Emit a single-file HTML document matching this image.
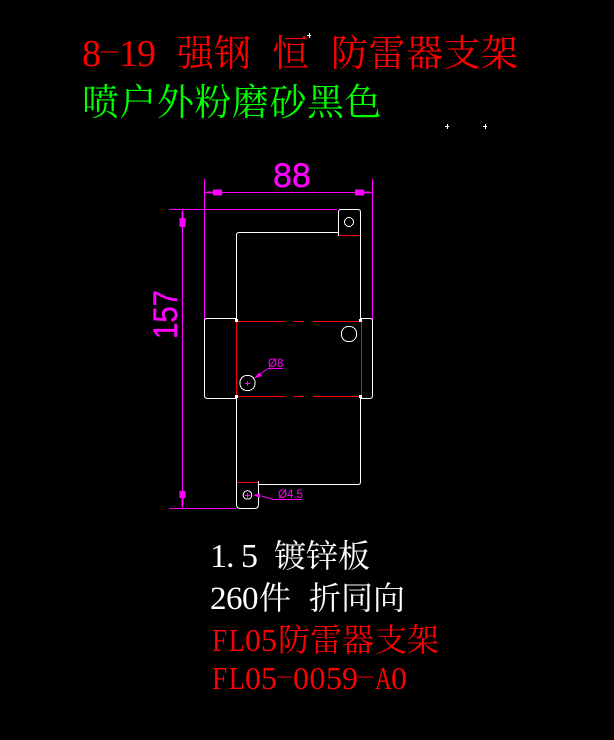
<!DOCTYPE html>
<html><head><meta charset="utf-8">
<style>
html,body{margin:0;padding:0;background:#000;width:614px;height:740px;overflow:hidden}
svg{display:block}
.c{font-family:"Liberation Serif","Noto Serif CJK SC",serif}
.s{font-family:"Liberation Sans",sans-serif}
</style></head>
<body>
<svg width="614" height="740" viewBox="0 0 614 740" xmlns="http://www.w3.org/2000/svg">
<rect width="614" height="740" fill="#000"/>

<!-- Title text -->
<g class="c" fill="#ff0000">
  <text x="82" y="66" font-size="38">8</text>
  <text transform="translate(98 55.400) scale(1.8 .4)" font-size="38">-</text>
  <text x="119 137" y="66" font-size="38">19</text>
  <text x="177 214" y="66" font-size="37">强钢</text>
  <text x="272" y="66" font-size="37">恒</text>
  <text x="331 368.5 406 443.5 481" y="66" font-size="37">防雷器支架</text>
</g>
<text class="c" fill="#00ff00" x="82 119.5 157 194.5 232 269.5 307 344.5" y="115" font-size="37">喷户外粉磨砂黑色</text>

<!-- Specks -->
<g stroke="#fff" stroke-width="1" shape-rendering="crispEdges">
  <path d="M307 35.500h4M309.500 33v5M445 126.500h4M447.500 124v5M483 126.500h4M485.500 124v5"/>
</g>

<!-- Dimension lines -->
<g stroke="#ff00ff" stroke-width="1" fill="none" shape-rendering="crispEdges">
  <path d="M204.500 179V325M372.500 179V325M204.500 192.500H372.500"/>
  <path d="M169 209.500H337M182.500 209.500V508.500M169 508.500H236"/>
</g>
<g fill="#ff00ff" shape-rendering="crispEdges">
  <path d="M207 191.500H213V189.500H222V195.500H213V193.500H207Z"/>
  <path d="M370 191.500H364V189.500H355V195.500H364V193.500H370Z"/>
  <path d="M181.500 212H183.500V218H185.500V227H179.500V218H181.500Z"/>
  <path d="M181.500 506H183.500V498H185.500V491H179.500V498H181.500Z"/>
</g>
<text class="s" fill="#ff00ff" stroke="#ff00ff" stroke-width=".4" x="273" y="187" font-size="34">88</text>
<text class="s" fill="#ff00ff" stroke="#ff00ff" stroke-width=".4" transform="translate(177 339) rotate(-90)" font-size="34" textLength="49" lengthAdjust="spacingAndGlyphs">157</text>

<!-- Red bend lines -->
<g stroke="#ff0000" stroke-width="1" fill="none" shape-rendering="crispEdges">
  <path d="M238 321.500H285M293 321.500H304M313 321.500H360"/>
  <path d="M238 396.500H285M293 396.500H304M313 396.500H360"/>
  <path d="M236.500 322V396M361.500 322V396"/>
  <path d="M339 235.500H360M237 482.500H258"/>
</g>

<!-- White outline -->
<g stroke="#fff" stroke-width="1" fill="none">
  <path d="M338.500 236V212Q338.500 209.500 341 209.500H358Q360.500 209.500 360.500 212V321"/>
  <path d="M338.500 232.500H239Q236.500 232.500 236.500 235V321"/>
  <path d="M236.500 318.500H207Q204.500 318.500 204.500 321V395.500Q204.500 398.500 207.500 398.500H236.500"/>
  <path d="M360.500 318.500H370Q372.500 318.500 372.500 321V395.500Q372.500 398.500 369.500 398.500H360.500"/>
  <path d="M236.500 397V504.500Q236.500 508.500 240.500 508.500H254.500Q258.500 508.500 258.500 504.500V481"/>
  <path d="M258.500 484.500H358Q360.500 484.500 360.500 482V397"/>
  <g shape-rendering="crispEdges">
    <circle cx="349" cy="222" r="4.500"/>
    <circle cx="349" cy="334" r="7.700"/>
    <circle cx="247.500" cy="383" r="7.700"/>
    <circle cx="247.500" cy="495" r="4.300"/>
  </g>
</g>
<g fill="#fff" shape-rendering="crispEdges">
  <rect x="235" y="319" width="3" height="3"/>
  <rect x="359" y="319" width="3" height="3"/>
  <rect x="235" y="395" width="3" height="3"/>
  <rect x="359" y="395" width="3" height="3"/>
</g>

<!-- Hole callouts -->
<g stroke="#ff00ff" stroke-width="1" fill="none">
  <path d="M245 383.500H250M247.500 381V386M245 495.500H250M247.500 493V498" shape-rendering="crispEdges"/>
  <path d="M268 368.500H283" shape-rendering="crispEdges"/>
  <path d="M268 368.500L256 377"/>
  <path d="M274 499.500H302" shape-rendering="crispEdges"/>
  <path d="M274 499.500L262 496"/>
</g>
<path d="M254 378.500L259 372.500L262 376Z" fill="#ff00ff"/>
<path d="M253 495L260 493.500L260 498Z" fill="#ff00ff"/>
<text class="s" fill="#ff00ff" x="268" y="367" font-size="11.500">Ø8</text>
<text class="s" fill="#ff00ff" x="278" y="498" font-size="11.500">Ø4.5</text>

<!-- Bottom notes -->
<g class="c" fill="#ffffff">
  <text x="210 226 241" y="567" font-size="34">1.5</text>
  <text x="274 306 338" y="567" font-size="32">镀锌板</text>
  <text x="210 226 242" y="609" font-size="33">260</text>
  <text x="259" y="609" font-size="32">件</text>
  <text x="309 341 373" y="609" font-size="32">折同向</text>
</g>
<g class="c" fill="#ff0000" font-size="32">
  <text transform="translate(212 651) scale(.85 1)">F</text>
  <text transform="translate(229 651) scale(.8 1)">L</text>
  <text x="245 261" y="651">05</text>
  <text x="278 310 342 375 407" y="651">防雷器支架</text>
  <text transform="translate(212 689) scale(.85 1)">F</text>
  <text transform="translate(229 689) scale(.8 1)">L</text>
  <text x="245 261" y="689">05</text>
  <text transform="translate(275 680) scale(1.8 .4)">-</text>
  <text x="293 309.500 326 342" y="689">0059</text>
  <text transform="translate(356 680) scale(1.8 .4)">-</text>
  <text transform="translate(375 689) scale(.72 1)">A</text>
  <text x="391" y="689">0</text>
</g>
</svg>
</body></html>
